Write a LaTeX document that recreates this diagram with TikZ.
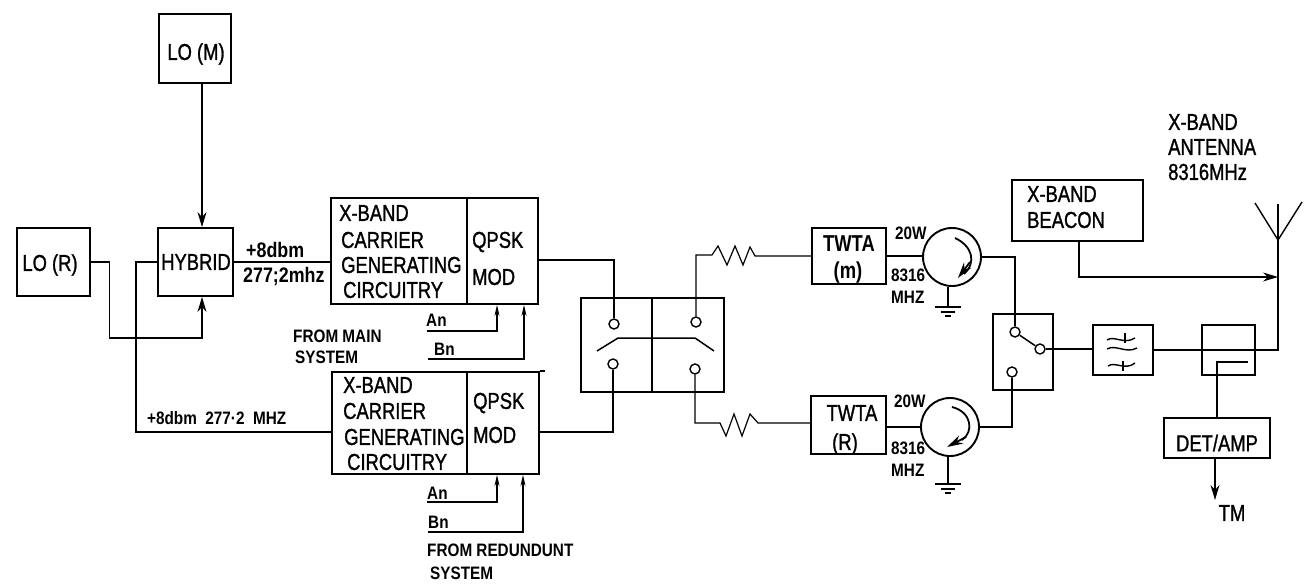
\documentclass[tikz,border=0pt]{standalone}
\usepackage{fontspec}
\usetikzlibrary{arrows.meta}
\newfontfamily\labfont[FakeStretch=0.8,FakeBold=1.2]{Liberation Sans}
\newfontfamily\twtafont[FakeStretch=0.8]{Liberation Sans Bold}
\newfontfamily\smlfont[FakeStretch=0.85]{Liberation Sans Bold}
\tikzset{
 boxs/.style={draw,line width=1.9pt,inner sep=0pt,rectangle},
 ring/.style={draw,line width=1.4pt,circle,inner sep=0pt,minimum size=10pt},
 tube/.style={draw,line width=1.9pt,circle,inner sep=0pt,minimum size=58pt},
 conn/.style={line width=1.2pt,line join=miter},
 head/.style={-{Stealth[length=15pt,width=9pt]}},
 shead/.style={-{Stealth[length=11pt,width=5pt]}},
 lab/.style={inner sep=0pt,anchor=west,font=\labfont\fontsize{23}{23}\selectfont},
 labc/.style={inner sep=0pt,anchor=center,font=\labfont\fontsize{23}{23}\selectfont},
 twtal/.style={inner sep=0pt,anchor=center,font=\twtafont\fontsize{23}{23}\selectfont},
 sml/.style={inner sep=0pt,anchor=west,font=\smlfont\fontsize{18}{18}\selectfont},
 smlb/.style={inner sep=0pt,anchor=west,font=\smlfont\fontsize{21}{21}\selectfont},
}
\begin{document}
\begin{tikzpicture}[x=1pt,y=-1pt]
\useasboundingbox (0,0) rectangle (1310,588);
% boxes
\node[boxs,minimum width=72pt,minimum height=69pt] (lom) at (195,48.5) {};
\node[boxs,minimum width=73pt,minimum height=68pt] (lor) at (53.5,262) {};
\node[boxs,minimum width=75pt,minimum height=68pt] (hyb) at (195.5,262) {};
\node[boxs,minimum width=136pt,minimum height=106pt] (car1) at (399,251) {};
\node[boxs,minimum width=71pt,minimum height=106pt] (qp1) at (502.5,251) {};
\node[boxs,minimum width=135pt,minimum height=102pt] (car2) at (399.5,423) {};
\node[boxs,minimum width=72pt,minimum height=102pt] (qp2) at (503,423) {};
\node[boxs,minimum width=71pt,minimum height=94pt] (swa) at (616.5,345) {};
\node[boxs,minimum width=72pt,minimum height=94pt] (swb) at (688,345) {};
\node[boxs,minimum width=74pt,minimum height=56pt] (tm) at (849,256) {};
\node[boxs,minimum width=75pt,minimum height=58pt] (tr) at (848.5,425) {};
\node[tube] (tubem) at (952,257) {};
\node[tube] (tuber) at (950,427) {};
\node[boxs,minimum width=60pt,minimum height=76pt] (swc) at (1023,352) {};
\node[boxs,minimum width=60pt,minimum height=50pt] (filt) at (1123,350) {};
\node[boxs,minimum width=53pt,minimum height=50pt] (coup) at (1228.5,350) {};
\node[boxs,minimum width=106pt,minimum height=40pt] (det) at (1217,438) {};
\node[boxs,minimum width=131pt,minimum height=61pt] (bcn) at (1077.5,210.5) {};
% switch contacts
\node[ring] (a1) at (614,324) {};
\node[ring] (a2) at (613,364) {};
\node[ring] (b1) at (696,322) {};
\node[ring] (b2) at (695,369) {};
\node[ring] (c1) at (1015,332) {};
\node[ring] (c2) at (1040,349) {};
\node[ring] (c3) at (1012,372) {};
% free ends
\coordinate (antbase) at (1278,240);
\coordinate (antjoin) at (1278,277);
\coordinate (anttop) at (1278,204);
\coordinate (antl) at (1255,203);
\coordinate (antr) at (1302,202);
\coordinate (anin1) at (427,331);
\coordinate (bnin1) at (428,359);
\coordinate (anin2) at (427,502);
\coordinate (bnin2) at (428,532);
\coordinate (tmout) at (1215,500);
\coordinate (gm) at (948,307);
\coordinate (gr) at (948,484);
% labels
\node[labc] (tlom) at (196,54) {LO (M)};
\node[labc] (tlor) at (50,265) {LO (R)};
\node[labc] (thyb) at (196,262) {HYBRID};
\node[lab] (t11) at (339,213) {X-BAND};
\node[lab] (t12) at (341,240) {CARRIER};
\node[lab] (t13) at (341,265) {GENERATING};
\node[lab] (t14) at (343,290) {CIRCUITRY};
\node[lab] (t15) at (472,242) {QPSK};
\node[lab] (t16) at (472,277) {MOD};
\node[lab] (t21) at (343,385) {X-BAND};
\node[lab] (t22) at (343,411) {CARRIER};
\node[lab] (t23) at (344,437) {GENERATING};
\node[lab] (t24) at (347,462) {CIRCUITRY};
\node[lab] (t25) at (473,403) {QPSK};
\node[lab] (t26) at (473,435) {MOD};
\node[smlb] (p1) at (246,250) {+8dbm};
\node[smlb] (p2) at (243,277) {277;2mhz};
\node[sml] (p3) at (147,418) {+8dbm\ \ 277·2\ \ MHZ};
\node[sml] (an1) at (426,320) {An};
\node[sml] (bn1) at (434,349) {Bn};
\node[sml] (an2) at (427,493) {An};
\node[sml] (bn2) at (428,522) {Bn};
\node[sml] (fm1) at (293,336) {FROM MAIN};
\node[sml] (fm2) at (295,357) {SYSTEM};
\node[sml] (fr1) at (427,550) {FROM REDUNDUNT};
\node[sml] (fr2) at (430,573) {SYSTEM};
\node[twtal] (tw1) at (849,244) {TWTA};
\node[twtal] (tw2) at (848,273) {(m)};
\node[labc] (tw3) at (852,413) {TWTA};
\node[labc] (tw4) at (845,444) {(R)};
\node[sml] (w1) at (895,233) {20W};
\node[sml] (f1) at (891,275) {8316};
\node[sml] (h1) at (891,297) {MHZ};
\node[sml] (w2) at (894,401) {20W};
\node[sml] (f2) at (891,448) {8316};
\node[sml] (h2) at (891,470) {MHZ};
\node[lab] (b1t) at (1027,194) {X-BAND};
\node[lab] (b2t) at (1027,220) {BEACON};
\node[lab] (x1) at (1168,122) {X-BAND};
\node[lab] (x2) at (1168,147) {ANTENNA};
\node[lab] (x3) at (1168,172) {8316MHz};
\node[labc] (dt) at (1217,443) {DET/AMP};
\node[labc] (tmt) at (1232,513) {TM};
% connectors
\draw[conn,head] ([xshift=7pt]lom.south) -- ([xshift=6.5pt]hyb.north);
\draw[conn,head] (lor.east) -- ++(18.5,0) |- (150,338) -| ([xshift=6.5pt]hyb.south);
\draw[conn] (hyb.west) -| (136,432) -- (car2.west |- 0,432);
\draw[conn] (hyb.east) -- (car1.west |- hyb.east);
\draw[conn] (qp1.east |- 0,260) -| (a1.north);
\draw[conn] (qp2.east |- 0,432) -| (a2.south);
\draw[conn,shead] (anin1) -| ([xshift=-5.5pt]qp1.south);
\draw[conn,shead] (bnin1) -| ([xshift=21.5pt]qp1.south);
\draw[conn,shead] (anin2) -| ([xshift=-6pt]qp2.south);
\draw[conn,shead] (bnin2) -| ([xshift=20pt]qp2.south);
\draw[conn] (qp2.north east) -- ++(5,0);
\draw[line width=1.5pt] (597,351) -- (618,338) -- (695,338) -- (714,351);
\draw[conn] (b1.north) -- (696,255) -- (712,255) -- (718,246) -- (727,265) -- (735,246) -- (743,265) -- (750,247) -- (755,256) -- (tm.west);
\draw[conn] (b2.south) -- (695,423) -- (720,423) -- (726,436) -- (734,414) -- (742,436) -- (750,414) -- (758,423) -- (tr.west |- 0,423);
\draw[conn] (tm.east) -- (tubem.west |- tm.east);
\draw[conn] (tr.east |- tuber.west) -- (tuber.west);
% tube arcs
\draw[line width=1.8pt] (955,238) .. controls (972,246) and (977,262) .. (964,274);
\draw[line width=1.8pt,-{Stealth[length=16pt,width=9pt]}] (970,262) -- (958,278);
\draw[line width=1.8pt] (952,407) .. controls (972,412) and (974,432) .. (962,440);
\draw[line width=1.8pt,-{Stealth[length=16pt,width=9pt]}] (966,437) -- (947,447);
% grounds
\draw[conn] (tubem.south -| gm) -- (gm);
\draw[line width=1.6pt] ([xshift=-13pt]gm) -- ([xshift=13pt]gm);
\draw[line width=1.6pt] ([xshift=-7pt,yshift=-5pt]gm) -- ([xshift=7pt,yshift=-5pt]gm);
\draw[line width=1.6pt] ([xshift=-3pt,yshift=-9pt]gm) -- ([xshift=3pt,yshift=-9pt]gm);
\draw[conn] (tuber.south -| gr) -- (gr);
\draw[line width=1.6pt] ([xshift=-13pt]gr) -- ([xshift=13pt]gr);
\draw[line width=1.6pt] ([xshift=-7pt,yshift=-5pt]gr) -- ([xshift=7pt,yshift=-5pt]gr);
\draw[line width=1.6pt] ([xshift=-3pt,yshift=-9pt]gr) -- ([xshift=3pt,yshift=-9pt]gr);
% to output switch
\draw[conn] (tubem.east) -| (c1.north);
\draw[conn] (tuber.east) -| (c3.south);
\draw[line width=1.5pt] (c1) -- (c2);
\draw[conn] (c2.east) -- (filt.west |- c2.east);
\draw[conn] (filt.east) -- (coup.west);
\draw[conn] (coup.west) -- (coup.east) -| (antbase);
% filter glyph
\draw[line width=1.4pt] (1107,340) .. controls (1114,335) and (1124,345) .. (1135,338);
\draw[line width=1.4pt] (1125,333) -- (1125,343);
\draw[line width=1.4pt] (1107,349) .. controls (1116,344) and (1126,354) .. (1137,348);
\draw[line width=1.4pt] (1108,366) .. controls (1115,361) and (1125,371) .. (1135,363);
\draw[line width=1.4pt] (1123,361) -- (1123,371);
% coupler
\draw[line width=1.5pt] (1248,362) -- (1217,362) -- (det.north);
\draw[conn,head] ([xshift=-2pt]det.south) -- (tmout);
% beacon and antenna
\draw[conn,head] ([xshift=1.5pt]bcn.south) |- (antjoin);
\draw[conn] (antbase) -- (anttop);
\draw[line width=1.4pt] (antl) -- (antbase) -- (antr);
\end{tikzpicture}
\end{document}
